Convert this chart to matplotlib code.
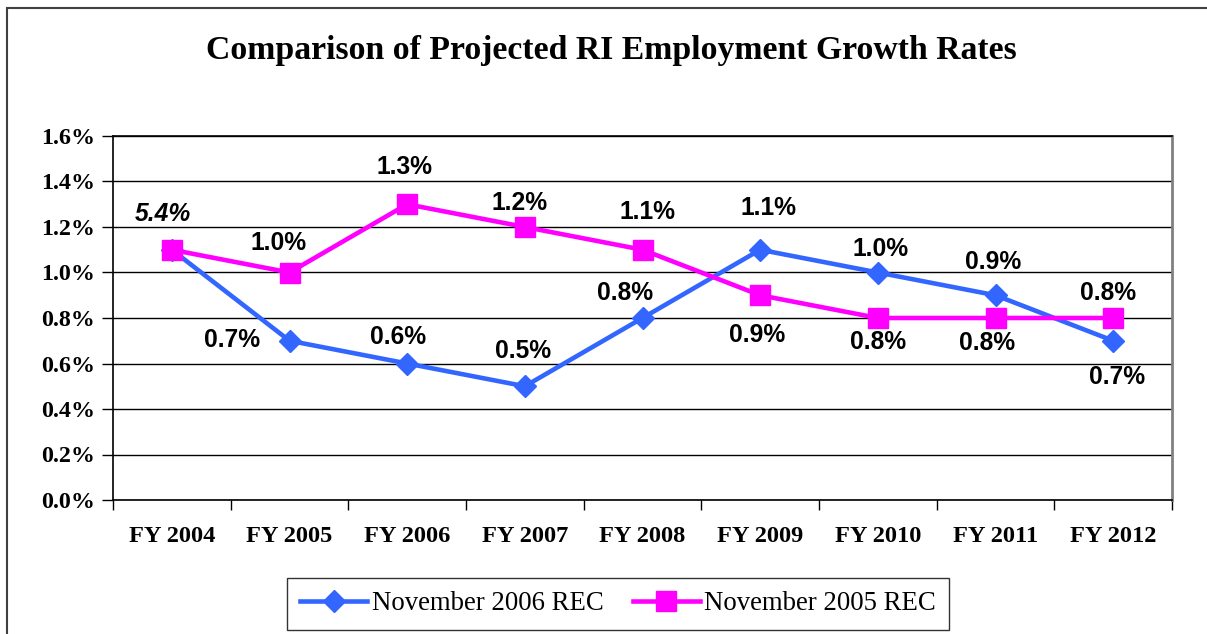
import matplotlib
matplotlib.use("Agg")
import matplotlib.pyplot as plt
import matplotlib.ticker as plticker
from matplotlib.patches import Rectangle

# data (percent)
years = ['FY 2004', 'FY 2005', 'FY 2006', 'FY 2007', 'FY 2008',
         'FY 2009', 'FY 2010', 'FY 2011', 'FY 2012']
nov2006 = [1.1, 0.7, 0.6, 0.5, 0.8, 1.1, 1.0, 0.9, 0.7]
nov2005 = [1.1, 1.0, 1.3, 1.2, 1.1, 0.9, 0.8, 0.8, 0.8]
nov2006_labels = [None, '0.7%', '0.6%', '0.5%', '0.8%', '1.1%', '1.0%', '0.9%', '0.7%']
nov2005_labels = ['5.4%', '1.0%', '1.3%', '1.2%', '1.1%', '0.9%', '0.8%', '0.8%', '0.8%']

# label placement (pixel offsets from each point)
off2006 = [(0, 0), (-57, 1), (-9, 27), (-2, 35), (-17, 25), (8, 42), (3, 23), (-2, 33), (4, -36)]
off2005 = [(-9, 36), (-11, 30), (-3, 37), (-5, 24), (5, 38), (-3, -40), (0, -24), (-8, -25), (-5, 25)]

serif = 'Liberation Serif'
sans = 'Liberation Sans'
blue = '#3366FF'
pink = '#FF00FF'

fig = plt.figure(figsize=(12.07, 6.34), dpi=100)
ax = fig.add_axes([113/1207, 1 - 500/634, (1172-113)/1207, (500-136)/634])

x = list(range(len(years)))
ax.plot(x, nov2006, color=blue, lw=3.3, marker='D', ms=11, zorder=3,
        label='November 2006 REC')
ax.plot(x, nov2005, color=pink, lw=3.3, marker='s', ms=14, zorder=4,
        label='November 2005 REC')

# data labels
for i in x:
    if nov2006_labels[i]:
        ax.annotate(nov2006_labels[i], (i, nov2006[i]), xytext=off2006[i],
                    textcoords='offset pixels', ha='center', va='center',
                    fontsize=17.7, fontweight='bold', family=sans, zorder=5)
    style = 'italic' if i == 0 else 'normal'
    ax.annotate(nov2005_labels[i], (i, nov2005[i]), xytext=off2005[i],
                textcoords='offset pixels', ha='center', va='center',
                fontsize=17.7, fontweight='bold', fontstyle=style, family=sans, zorder=5)

ax.set_xlim(-0.5, len(years) - 0.5)
ax.set_ylim(0, 1.6)
ax.yaxis.set_major_locator(plticker.MultipleLocator(0.2))
ax.yaxis.set_major_formatter(plticker.FormatStrFormatter('%.1f%%'))
ax.grid(axis='y', color='black', lw=1)
ax.set_axisbelow(True)

ax.set_xticks(x)
ax.set_xticklabels(years)
ax.set_xticks([i - 0.5 for i in range(len(years) + 1)], minor=True)
ax.tick_params(axis='x', which='major', length=0, pad=19)
ax.tick_params(axis='x', which='minor', length=7, width=1, direction='out', color='black')
ax.tick_params(axis='y', length=8, width=1, direction='out', pad=5)
for lab in ax.get_xticklabels():
    lab.set_family(serif)
    lab.set_fontweight('bold')
    lab.set_fontsize(17.6)
for lab in ax.get_yticklabels():
    lab.set_family(serif)
    lab.set_fontweight('bold')
    lab.set_fontsize(17.3)

for side in ['left', 'bottom', 'top']:
    ax.spines[side].set_color('black')
    ax.spines[side].set_linewidth(1.2)
ax.spines['right'].set_color('#808080')
ax.spines['right'].set_linewidth(2)

fig.text(611/1207, 1 - 50/634, 'Comparison of Projected RI Employment Growth Rates',
         ha='center', va='center', fontsize=24.3, fontweight='bold', family=serif)

leg = fig.legend(loc='center', bbox_to_anchor=(618/1207, 1 - 604/634), ncol=2,
                 prop={'family': serif, 'size': 19.3}, frameon=True, fancybox=False,
                 edgecolor='black', handlelength=2.5, handletextpad=0.15,
                 columnspacing=1.1, borderpad=0.5)
leg.get_frame().set_linewidth(1)

# outer chart border
fig.patches.append(Rectangle((7/1207, -0.1), 1.2, 1.1 - 8/634, transform=fig.transFigure,
                             fill=False, edgecolor='#404040', lw=1.5))

fig.savefig('out.png', dpi=100)
